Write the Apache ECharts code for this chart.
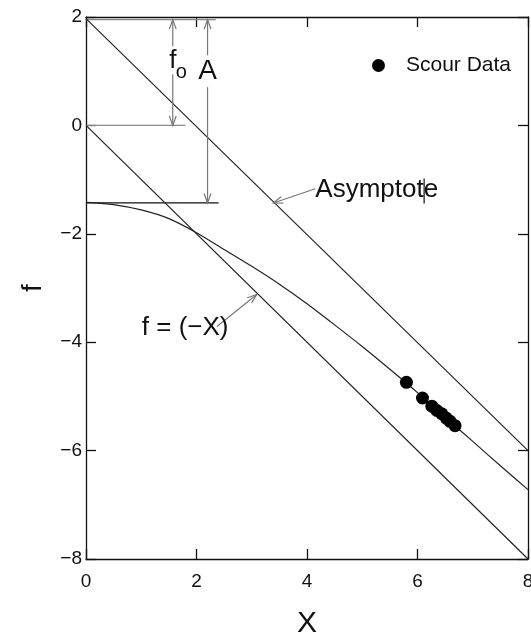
<!DOCTYPE html>
<html><head><meta charset="utf-8">
<script src="https://cdn.jsdelivr.net/npm/echarts@6/dist/echarts.min.js"></script>
<style>html,body{margin:0;padding:0;background:#fff}#c{width:531px;height:637px}</style>
</head><body><div id="c"></div>
<script>
// ---- data ----
const xTicks = [0, 2, 4, 6, 8];
const yTicks = [-8, -6, -4, -2, 0, 2];
const asymptoteX = [0, 8];
const asymptoteF = [1.97, -6.0];
const negXX = [0, 8];
const negXF = [0, -8];
const curveX = [0, 0.5, 1, 1.5, 2, 2.5, 3, 3.5, 4, 4.5, 5, 5.5, 6, 6.5, 7, 7.5, 8];
const curveF = [-1.42, -1.46, -1.56, -1.72, -1.98, -2.29, -2.60, -2.93, -3.29, -3.68, -4.08, -4.50, -4.93, -5.38, -5.83, -6.28, -6.72];
const scourX = [5.80, 6.09, 6.26, 6.35, 6.44, 6.52, 6.59, 6.68];
const scourF = [-4.74, -5.03, -5.18, -5.26, -5.32, -5.40, -5.46, -5.54];
// reference levels (f values) and their extents (X)
const levelF = [1.95, 0, -1.43];
const levelEndX = [2.35, 1.8, 2.4];
// dimension arrows: X position, from f, to f
const foArrow = [1.57, 1.95, 0];
const aArrow = [2.2, 1.95, -1.43];
// pointer arrows: tail [X,f], tip [X,f]
const asymPointer = [[4.15, -1.17], [3.39, -1.43]];
const negXPointer = [[2.37, -3.71], [3.09, -3.12]];
// label anchors
const labelFo = [1.57, 1.2];
const labelA = [2.2, 1.0];
const labelAsym = [4.15, -1.19];
const labelNegX = [1.01, -3.73];
const cursorMark = [6.12, -0.98, -1.44];

const FONT = 'Liberation Sans, Arial, sans-serif';
const minus = v => v < 0 ? '\u2212' + Math.abs(v) : String(v);

const chart = echarts.init(document.getElementById('c'));
const grid = { left: 86, right: 3, top: 17, bottom: 78, containLabel: false, outerBoundsMode: 'none' };
const mkLine = () => ({ show: true, onZero: false, lineStyle: { color: '#111', width: 1.3 } });
const mkTick = () => ({ show: true, inside: true, length: 10, lineStyle: { color: '#111', width: 1.3 } });

const levelSeries = levelF.map((f, i) => ({
  type: 'line', xAxisIndex: 0, yAxisIndex: 0, silent: true, symbol: 'none',
  data: [[0, f], [levelEndX[i], f]],
  lineStyle: { color: i === 2 ? '#111' : '#8a8a8a', width: i === 2 ? 1.4 : 1.3 },
  z: 2
}));

chart.setOption({
  animation: false,
  backgroundColor: '#fff',
  grid: grid,
  legend: {
    data: ['Scour Data'], left: 367, top: 50, icon: 'circle', itemWidth: 13, itemHeight: 14,
    itemStyle: { color: '#000', opacity: 1 },
    textStyle: { fontSize: 21, fontFamily: FONT, color: '#111', padding: [0, 0, 0, 16] }
  },
  xAxis: [{
    type: 'value', min: 0, max: 8, interval: 2, position: 'bottom',
    name: 'X', nameLocation: 'middle', nameGap: 50,
    nameTextStyle: { fontSize: 30, fontFamily: FONT, color: '#111' },
    axisLine: mkLine(), axisTick: mkTick(), splitLine: { show: false },
    axisLabel: { fontSize: 19, fontFamily: FONT, color: '#111', margin: 13, formatter: minus, showMaxLabel: true }
  }, {
    type: 'value', min: 0, max: 8, interval: 2, position: 'top',
    axisLine: mkLine(), axisTick: mkTick(), splitLine: { show: false }, axisLabel: { show: false }
  }],
  yAxis: [{
    type: 'value', min: -8, max: 2, interval: 2, position: 'left',
    name: 'f', nameLocation: 'middle', nameGap: 39,
    nameTextStyle: { fontSize: 28, fontFamily: FONT, color: '#111' },
    axisLine: mkLine(), axisTick: mkTick(), splitLine: { show: false },
    axisLabel: { fontSize: 19, fontFamily: FONT, color: '#111', margin: 4, formatter: minus }
  }, {
    type: 'value', min: -8, max: 2, interval: 2, position: 'right',
    axisLine: mkLine(), axisTick: mkTick(), splitLine: { show: false }, axisLabel: { show: false }
  }],
  series: [
    ...levelSeries,
    {
      type: 'line', silent: true, symbol: 'none', z: 3,
      data: asymptoteX.map((x, i) => [x, asymptoteF[i]]),
      lineStyle: { color: '#222', width: 1.2 }
    },
    {
      type: 'line', silent: true, symbol: 'none', z: 3,
      data: negXX.map((x, i) => [x, negXF[i]]),
      lineStyle: { color: '#222', width: 1.2 }
    },
    {
      type: 'line', silent: true, symbol: 'none', smooth: 0.25, z: 3,
      data: curveX.map((x, i) => [x, curveF[i]]),
      lineStyle: { color: '#222', width: 1.2 }
    },
    {
      name: 'Scour Data', type: 'scatter', symbol: 'circle', symbolSize: 13, z: 5,
      data: scourX.map((x, i) => [x, scourF[i]]),
      itemStyle: { color: '#000', opacity: 1 }
    }
  ]
});

// ---- annotations (converted from data coordinates) ----
const px = p => chart.convertToPixel({ gridIndex: 0 }, p);
const g = [];
const GRAY = '#777';
function seg(a, b, color, w) {
  g.push({ type: 'line', z: 10, shape: { x1: a[0], y1: a[1], x2: b[0], y2: b[1] }, style: { stroke: color, lineWidth: w } });
}
function head(tip, from, color) {
  const dx = from[0] - tip[0], dy = from[1] - tip[1];
  const L = Math.hypot(dx, dy), ux = dx / L, uy = dy / L;
  const len = 10, ang = 20 * Math.PI / 180;
  const r = (c, s) => [tip[0] + len * (ux * c - uy * s), tip[1] + len * (ux * s + uy * c)];
  const p1 = r(Math.cos(ang), Math.sin(ang)), p2 = r(Math.cos(ang), -Math.sin(ang));
  g.push({ type: 'polyline', z: 10, shape: { points: [p1, tip, p2] }, style: { stroke: color, lineWidth: 1.2, fill: null } });
}
function dimArrow(a) {
  const p1 = px([a[0], a[1]]), p2 = px([a[0], a[2]]);
  seg(p1, p2, GRAY, 1.2); head(p1, p2, GRAY); head(p2, p1, GRAY);
}
function pointer(a) {
  const t = px(a[0]), tip = px(a[1]);
  seg(t, tip, GRAY, 1.1); head(tip, t, GRAY);
}
dimArrow(foArrow);
dimArrow(aArrow);
pointer(asymPointer);
pointer(negXPointer);

function text(p, str, size, align, extra) {
  const q = px(p);
  g.push(Object.assign({ type: 'text', z: 12, x: q[0], y: q[1],
    style: Object.assign({ text: str, fontSize: size, fontFamily: FONT, fill: '#111', align: align, verticalAlign: 'middle' }, extra || {}) }));
}
text(labelFo, 'f', 26, 'center', { backgroundColor: '#fff', padding: [1, 0, 1, 0] });
{
  const q = px(labelFo);
  g.push({ type: 'text', z: 12, x: q[0] + 3, y: q[1] + 12,
    style: { text: 'o', fontSize: 20, fontFamily: FONT, fill: '#111', align: 'left', verticalAlign: 'middle' } });
}
text(labelA, 'A', 28, 'center', { backgroundColor: '#fff', padding: [2, 0, 2, 0] });
text(labelAsym, 'Asymptote', 26, 'left');
text(labelNegX, 'f = (\u2212X)', 26, 'left');
seg(px([cursorMark[0], cursorMark[1]]), px([cursorMark[0], cursorMark[2]]), '#222', 1.3);

chart.setOption({ graphic: g });
</script>
</body></html>
